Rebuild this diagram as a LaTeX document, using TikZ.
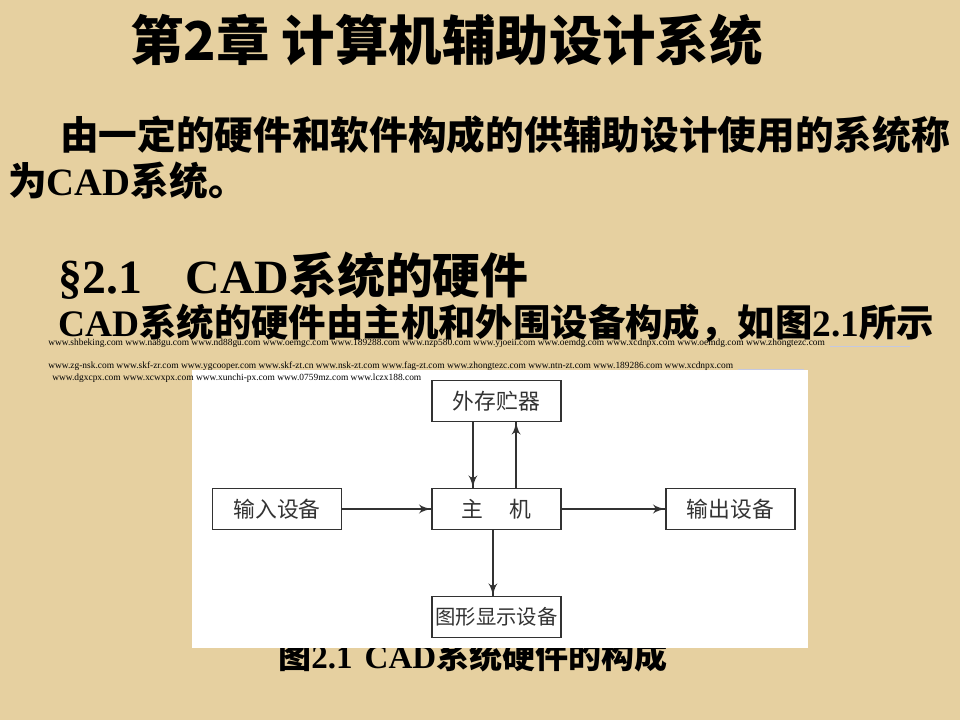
\documentclass[tikz,border=0pt]{standalone}
\usepackage{fontspec}
\setmainfont{Liberation Serif}
\newfontfamily\cjk{Noto Sans CJK SC}
\usetikzlibrary{arrows}
\usetikzlibrary{decorations.markings}
\usetikzlibrary{positioning}
\definecolor{paper}{RGB}{230,208,160}
\definecolor{boxline}{RGB}{50,50,50}
\definecolor{linkline}{RGB}{196,200,225}
\newcommand{\zh}[1]{{\cjk #1}}
\tikzset{txt/.style = {anchor = west, inner sep = 0pt, font = \bfseries},
         web/.style = {anchor = west, inner sep = 0pt, font = \fontsize{6.7}{7}\selectfont},
         unit/.style = {draw = boxline, line width = 1.2pt, fill = white,
                        minimum width = 3.225cm, minimum height = 1.03cm, inner sep = 0pt,
                        font = \cjk\fontsize{15.5}{17}\selectfont, text = black!80},
         arr/.style = {line width = 1pt, draw = boxline,
                       decoration = {markings,
                                     mark = at position 1 with {\arrow[scale = 1.5]{latex'}}},
                       postaction = {decorate}}}

\begin{document}
\begin{tikzpicture}[x = 0.025cm, y = -0.025cm]
      \useasboundingbox [fill = paper] (0, 0) rectangle (960, 720);
      % headings and text
      \node [txt, font = \cjk\bfseries\fontsize{38}{40}\selectfont] (title) at (130, 40) {第2章 计算机辅助设计系统};
      \node [txt, font = \cjk\bfseries\fontsize{27.5}{30}\selectfont] (para) at (60, 135) {由一定的硬件和软件构成的供辅助设计使用的系统称};
      \node [txt, font = \bfseries\fontsize{27.5}{30}\selectfont] (parb) at (8, 181) {\zh{为}CAD\zh{系统。}};
      \node [txt, font = \bfseries\fontsize{34}{36}\selectfont] (sec) at (58, 276) {§2.1\hspace{1.1cm}CAD\zh{系统的硬件}};
      \node [txt, font = \bfseries\fontsize{26.6}{30}\selectfont] (intro) at (58, 323) {CAD\zh{系统的硬件由主机和外围设备构成，如图}2.1\zh{所示}};
      % caption, partly under the white panel
      \node [font = \bfseries\fontsize{23.5}{26}\selectfont, inner sep = 0pt] (cap) at (473, 656) {\zh{图}2.1\hspace{0.3cm}CAD\zh{系统硬件的构成}};
      \fill [white] (192, 370) rectangle (808, 648);
      % link lines
      \node [web] (weba) at (48, 343) {www.shbeking.com www.na8gu.com www.nd88gu.com www.oemgc.com www.189288.com www.nzp580.com www.yjoeii.com www.oemdg.com www.xcdnpx.com www.oemdg.com www.zhongtezc.com};
      \node [web] (webb) at (48, 366) {www.zg-nsk.com www.skf-zr.com www.ygcooper.com www.skf-zt.cn www.nsk-zt.com www.fag-zt.com www.zhongtezc.com www.ntn-zt.com www.189286.com www.xcdnpx.com};
      \node [web] (webc) at (52, 378) {www.dgxcpx.com www.xcwxpx.com www.xunchi-px.com www.0759mz.com www.lczx188.com};
      \draw [linkline, line width = 0.6pt] ([xshift = 0.12cm, yshift = -0.08cm] weba.east) -- +(80, 0);
      \draw [linkline, line width = 0.6pt] ([xshift = 0.12cm, yshift = -0.08cm] webb.east) -- +(66, 0);
      % hardware blocks
      \node [unit] (store) at (496.5, 401) {外存贮器};
      \node [unit] (host) at (496.5, 509) {主\hspace{1.2em}机};
      \node [unit] (input) at (277, 509) {输入设备};
      \node [unit] (output) at (730.5, 509) {输出设备};
      \node [unit, font = \cjk\fontsize{14.5}{16}\selectfont] (disp) at (496.5, 617) {图形显示设备};
      \draw [arr] ([xshift = -0.59cm] store.south) -- ([xshift = -0.59cm] host.north);
      \draw [arr] ([xshift = 0.49cm] host.north) -- ([xshift = 0.49cm] store.south);
      \draw [arr] (input) -- (host);
      \draw [arr] (host) -- (output);
      \draw [arr] ([xshift = -0.09cm] host.south) -- ([xshift = -0.09cm] disp.north);
    \end{tikzpicture}
\end{document}
